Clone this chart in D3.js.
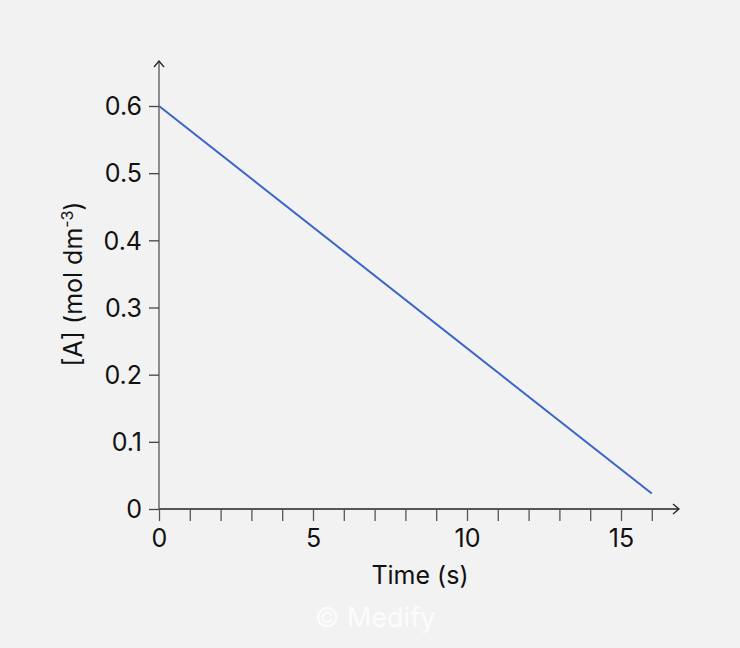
<!DOCTYPE html>
<html>
<head>
<meta charset="utf-8">
<script src="https://cdn.jsdelivr.net/npm/d3@7"></script>
<style>
  html, body { margin: 0; padding: 0; background: #f2f2f2; }
</style>
</head>
<body>
<div id="chart"></div>
<script>
// data
let time_s = [0, 16];
let conc_A = [0.6, 0.023];
let x_ticks = [0, 5, 10, 15];
let x_minor = d3.range(0, 17, 1);
let y_ticks = [0, 0.1, 0.2, 0.3, 0.4, 0.5, 0.6];

let width = 740;
let height = 648;
let font = "Inter, 'Liberation Sans', sans-serif";
let font_size = 25;

let svg = d3.select("#chart").append("svg")
    .attr("width", width)
    .attr("height", height);

svg.append("rect")
    .attr("width", width)
    .attr("height", height)
    .attr("fill", "#f2f2f2");

let x = d3.scaleLinear().domain([0, 15]).range([159, 621]);
let y = d3.scaleLinear().domain([0, 0.6]).range([509, 106]);

// axis lines with arrow heads
let axis_col = "#222";
svg.append("line")
    .attr("x1", x(0)).attr("y1", y(0))
    .attr("x2", 679).attr("y2", y(0))
    .attr("stroke", axis_col).attr("stroke-width", 1.3);
svg.append("path")
    .attr("d", `M673,${y(0) - 5} L679,${y(0)} L673,${y(0) + 5}`)
    .attr("fill", "none").attr("stroke", axis_col).attr("stroke-width", 1.3);

svg.append("line")
    .attr("x1", x(0)).attr("y1", y(0))
    .attr("x2", x(0)).attr("y2", 61)
    .attr("stroke", "#555").attr("stroke-width", 1.3);
svg.append("path")
    .attr("d", `M${x(0) - 5},67 L${x(0)},61 L${x(0) + 5},67`)
    .attr("fill", "none").attr("stroke", axis_col).attr("stroke-width", 1.3);

// x ticks every second, labels every 5
let xAxis = d3.axisBottom(x)
    .tickValues(x_minor)
    .tickSize(12)
    .tickFormat(d => x_ticks.includes(d) ? d : "");
let gx = svg.append("g")
    .attr("transform", `translate(0,${y(0)})`)
    .call(xAxis);
gx.select(".domain").remove();
gx.selectAll(".tick line").attr("stroke", "#555").attr("stroke-width", 1.3);
gx.selectAll(".tick text")
    .attr("dy", 0)
    .attr("y", 38)
    .attr("font-family", font)
    .attr("font-size", font_size)
    .attr("fill", "#111");

let yAxis = d3.axisLeft(y)
    .tickValues(y_ticks)
    .tickSize(10)
    .tickFormat(d => d === 0 ? "0" : d3.format(".1f")(d));
let gy = svg.append("g")
    .attr("transform", `translate(${x(0)},0)`)
    .call(yAxis);
gy.select(".domain").remove();
gy.selectAll(".tick line").attr("stroke", "#444").attr("stroke-width", 1.3);
gy.selectAll(".tick text")
    .attr("x", -17)
    .attr("dy", "0.35em")
    .attr("font-family", font)
    .attr("font-size", font_size)
    .attr("fill", "#111");

// data line
let line = d3.line()
    .x((d, i) => x(time_s[i]))
    .y(d => y(d));
svg.append("path")
    .datum(conc_A)
    .attr("d", line)
    .attr("fill", "none")
    .attr("stroke", "#3a64c8")
    .attr("stroke-width", 2);

// axis titles
svg.append("text")
    .attr("x", 420)
    .attr("y", 584)
    .attr("text-anchor", "middle")
    .attr("font-family", font)
    .attr("font-size", font_size)
    .attr("fill", "#111")
    .text("Time (s)");

let ytitle = svg.append("text")
    .attr("transform", "translate(82,284) rotate(-90)")
    .attr("text-anchor", "middle")
    .attr("font-family", font)
    .attr("font-size", font_size)
    .attr("fill", "#111");
ytitle.append("tspan").text("[A] (mol dm");
ytitle.append("tspan").attr("dy", -9).attr("font-size", 16).text("-3");
ytitle.append("tspan").attr("dy", 9).text(")");

// watermark
svg.append("text")
    .attr("x", 375)
    .attr("y", 627)
    .attr("text-anchor", "middle")
    .attr("font-family", font)
    .attr("font-size", 27)
    .attr("fill", "#ffffff")
    .attr("fill-opacity", 0.8)
    .text("© Medify");
</script>
</body>
</html>
